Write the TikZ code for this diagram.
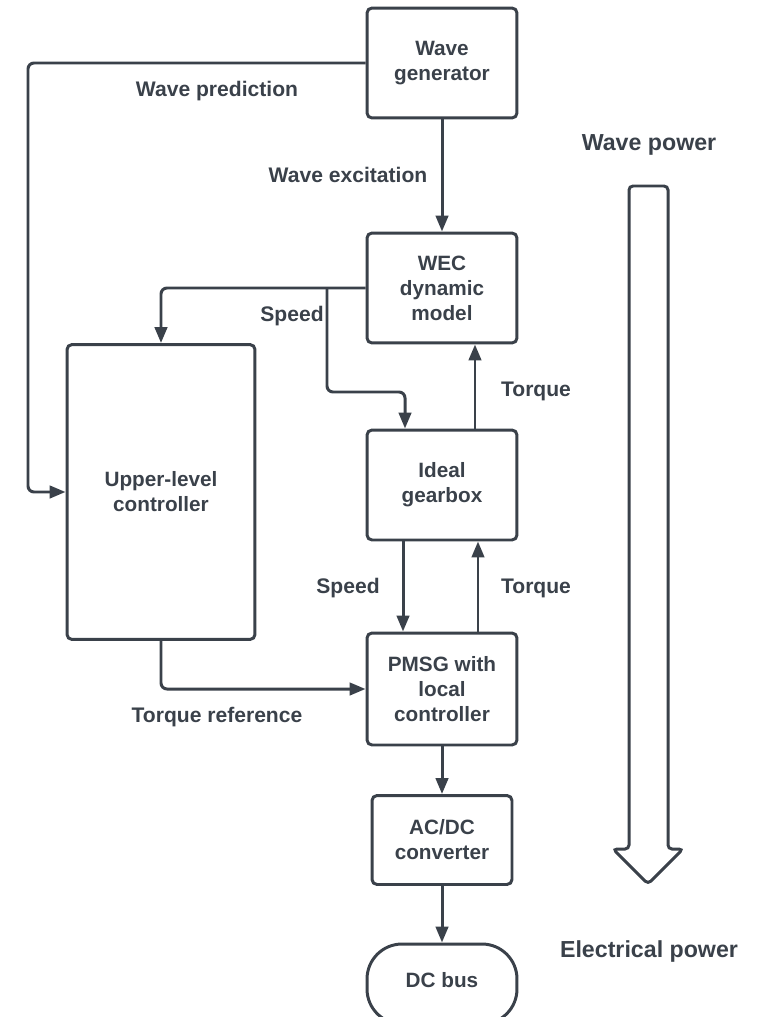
\documentclass[tikz,border=0pt]{standalone}
\usepackage{fontspec}
\setmainfont{Liberation Sans}
\usetikzlibrary{arrows.meta, positioning}
\definecolor{ink}{HTML}{3A414A}

\begin{document}
\begin{tikzpicture}[x=0.02cm, y=-0.02cm,
    block/.style={draw=ink, line width=1.7pt, rounded corners=0.1cm, align=center,
      text=ink, font=\bfseries\fontsize{11.8}{14.2}\selectfont,
      minimum width=3cm, minimum height=2.2cm, inner sep=0pt},
    flow/.style={draw=ink, line width=1.7pt, rounded corners=0.12cm,
      -{Triangle[length=0.32cm, width=0.25cm]}},
    lbl/.style={text=ink, font=\bfseries\fontsize{12}{14.2}\selectfont},
    biglbl/.style={lbl, font=\bfseries\fontsize{13.2}{16}\selectfont}]
    \clip (0,0) rectangle (759,1017);

    % Draw the blocks
    \node[block] (wavegen) at (442,63) {Wave\\generator};
    \node[block] (wec) at (442,288) {WEC\\dynamic\\model};
    \node[block] (gear) at (442,485) {Ideal\\gearbox};
    \node[block, minimum height=2.24cm] (pmsg) at (442,689) {PMSG with\\local\\controller};
    \node[block, minimum width=2.8cm, minimum height=1.78cm] (acdc) at (442,840) {AC/DC\\converter};
    \node[block, rounded corners=0.7cm, minimum height=1.6cm,
      text depth=0.16cm] (bus) at (442,984) {DC bus};
    \node[block, minimum width=3.76cm, minimum height=5.9cm] (upper) at (161,492) {Upper-level\\controller};

    % Draw the signal lines
    \draw[flow] (wavegen.west) -- (28,63) |- (upper.west);
    \draw[flow] (wavegen.south) -- (wec.north);
    \draw[flow] (wec.west) -| (upper.north);
    \draw[flow] (327,288) |- (405,392) -- ([xshift=-0.74cm]gear.north);
    \draw[flow] ([xshift=0.66cm]gear.north) -- ([xshift=0.66cm]wec.south);
    \draw[flow] ([xshift=-0.78cm]gear.south) -- ([xshift=-0.78cm]pmsg.north);
    \draw[flow] ([xshift=0.72cm]pmsg.north) -- ([xshift=0.72cm]gear.south);
    \draw[flow] (upper.south) |- (pmsg.west);
    \draw[flow] (pmsg.south) -- (acdc.north);
    \draw[flow] (acdc.south) -- (bus.north);

    % Draw the labels
    \node[lbl] (lpred) at (217,91) {Wave prediction};
    \node[lbl] (lexc) at (348,175) {Wave excitation};
    \node[lbl] (lspeed1) at (292,316) {Speed};
    \node[lbl] (ltorque1) at (536,391) {Torque};
    \node[lbl] (lspeed2) at (348,588) {Speed};
    \node[lbl] (ltorque2) at (536,588) {Torque};
    \node[lbl] (lref) at (217,717) {Torque reference};
    \node[biglbl] (lwave) at (649,145) {Wave power};
    \node[biglbl] (lelec) at (649,951) {Electrical power};

    % Draw the power flow arrow
    \draw[ink, line width=1.7pt, rounded corners=0.08cm]
      (629,849) -- (629,186) -- (668,186) -- (668,849) -- (683,849)
      -- (648,884) -- (613,849) -- cycle;
\end{tikzpicture}
\end{document}
